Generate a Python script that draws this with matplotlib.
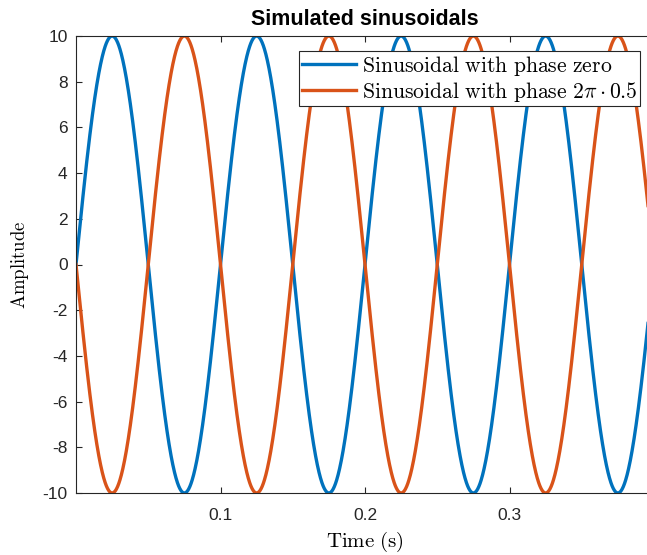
import numpy as np
import matplotlib
matplotlib.use("Agg")
import matplotlib.pyplot as plt

plt.rcParams['mathtext.fontset'] = 'cm'

# Data (signal parameters)
amplitude = 10.0
frequency_hz = 10.0
phases = [0.0, 2 * np.pi * 0.5]
labels = [r"$\mathrm{Sinusoidal\ with\ phase\ zero}$",
          r"$\mathrm{Sinusoidal\ with\ phase\ }2\pi\cdot0.5$"]
t_start, t_end, n_samples = 0.0, 0.4, 2001
x_ticks = [0.1, 0.2, 0.3]
y_ticks = list(range(-10, 11, 2))

colors = ["#0072BD", "#D95319"]

W, H = 647, 555
fig = plt.figure(figsize=(W / 100, H / 100), dpi=100)
left, right, top, bottom = 76, 654, 36, 493
ax = fig.add_axes([left / W, 1 - bottom / H, (right - left) / W, (bottom - top) / H])

t = np.linspace(t_start, t_end, n_samples)
for ph, lab, c in zip(phases, labels, colors):
    ax.plot(t, amplitude * np.sin(2 * np.pi * frequency_hz * t + ph), color=c, lw=2.4, label=lab)

ax.set_xlim(t_start, t_end)
ax.set_ylim(-10, 10)
ax.set_xticks(x_ticks)
ax.set_xticklabels([f"{v:g}" for v in x_ticks])
ax.set_yticks(y_ticks)
ax.set_yticklabels([str(v) for v in y_ticks])
ax.tick_params(direction='in', length=4, width=0.8, colors='#262626', labelsize=12.5,
               top=True, right=True, labelfontfamily='Liberation Sans')
ax.tick_params(axis='x', pad=11)
ax.tick_params(axis='y', pad=6)
for s in ax.spines.values():
    s.set_color('#262626')
    s.set_linewidth(0.8)

ax.set_title("Simulated sinusoidals", fontsize=15.5, fontweight='bold',
             fontfamily='Liberation Sans', pad=8)
ax.set_xlabel(r"$\mathrm{Time\ (s)}$", fontsize=15, labelpad=5)
ax.set_ylabel(r"$\mathrm{Amplitude}$", fontsize=13.5, labelpad=8)

leg = ax.legend(loc='upper right', bbox_to_anchor=(640 / W, 1 - 51 / H),
                bbox_transform=fig.transFigure, borderaxespad=0, fontsize=15.6,
                handlelength=2.5, fancybox=False, framealpha=1, edgecolor='#262626',
                borderpad=0.12, labelspacing=0.1, handletextpad=0.25)
leg.get_frame().set_linewidth(0.8)

fig.savefig("out.png", dpi=100)
